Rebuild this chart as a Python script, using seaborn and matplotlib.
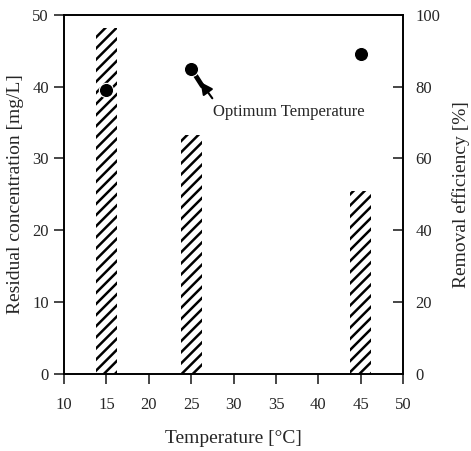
import matplotlib
matplotlib.use("Agg")
import matplotlib.pyplot as plt
import seaborn as sns
import pandas as pd

temperature = [15, 25, 45]
residual_conc = [48.2, 33.3, 25.5]
removal_eff = [79.0, 85.0, 89.2]
x_ticks = [10, 15, 20, 25, 30, 35, 40, 45, 50]
left_ticks = [0, 10, 20, 30, 40, 50]
right_ticks = [0, 20, 40, 60, 80, 100]

sns.set_style("white")
plt.rcParams['font.family'] = ['Liberation Serif', 'DejaVu Serif']
plt.rcParams['hatch.linewidth'] = 1.8

df = pd.DataFrame({"T": temperature, "C": residual_conc, "E": removal_eff})

fig = plt.figure(figsize=(4.71, 4.51), dpi=100)
ax = fig.add_axes([0.136, 0.171, 0.720, 0.796])

sns.barplot(data=df, x="T", y="C", native_scale=True, width=0.25,
            color="white", edgecolor="none", ax=ax)
for p in ax.patches:
    p.set_hatch("///")
    p.set_edgecolor("black")
    p.set_linewidth(0)

ax.set_xlim(10, 50)
ax.set_ylim(0, 50)
ax.set_xticks(x_ticks)
ax.set_yticks(left_ticks)
ax.tick_params(axis='x', bottom=True, direction='out', length=7, width=1.2,
               labelsize=12, pad=10)
ax.tick_params(axis='y', left=True, direction='out', length=7, width=1.2,
               labelsize=12, pad=4)
ax.set_xlabel("Temperature [°C]", fontsize=14, labelpad=12)
ax.set_ylabel("Residual concentration [mg/L]", fontsize=14, labelpad=6)
for s in ax.spines.values():
    s.set_visible(True)
    s.set_color("black")
    s.set_linewidth(1.2)

ax2 = ax.twinx()
sns.scatterplot(data=df, x="T", y="E", color="black", s=105, ax=ax2, zorder=5)
ax2.set_ylim(0, 100)
ax2.set_yticks(right_ticks)
ax2.tick_params(axis='y', right=True, direction='in', length=7, width=1.2,
                labelsize=12, pad=9)
ax2.set_ylabel("Removal efficiency [%]", fontsize=14, labelpad=8)
ax2.set_xlim(10, 50)
for s in ax2.spines.values():
    s.set_color("black")
    s.set_linewidth(1.2)

# annotation: thick stem from the optimum point, arrow head, text
ax2.annotate("", xy=(26.3, 80.2), xytext=(25.0, 85.0),
             arrowprops=dict(arrowstyle="-", color="black", lw=3.5,
                             shrinkA=0, shrinkB=0))
ax2.annotate("Optimum Temperature", xy=(26.1, 81.3), xytext=(27.6, 73.0),
             fontsize=12,
             arrowprops=dict(arrowstyle="-|>", color="black", lw=1.5,
                             mutation_scale=18, shrinkA=2, shrinkB=0,
                             relpos=(0.02, 1.0)),
             ha="left", va="center")

fig.savefig("out.png", dpi=100)
